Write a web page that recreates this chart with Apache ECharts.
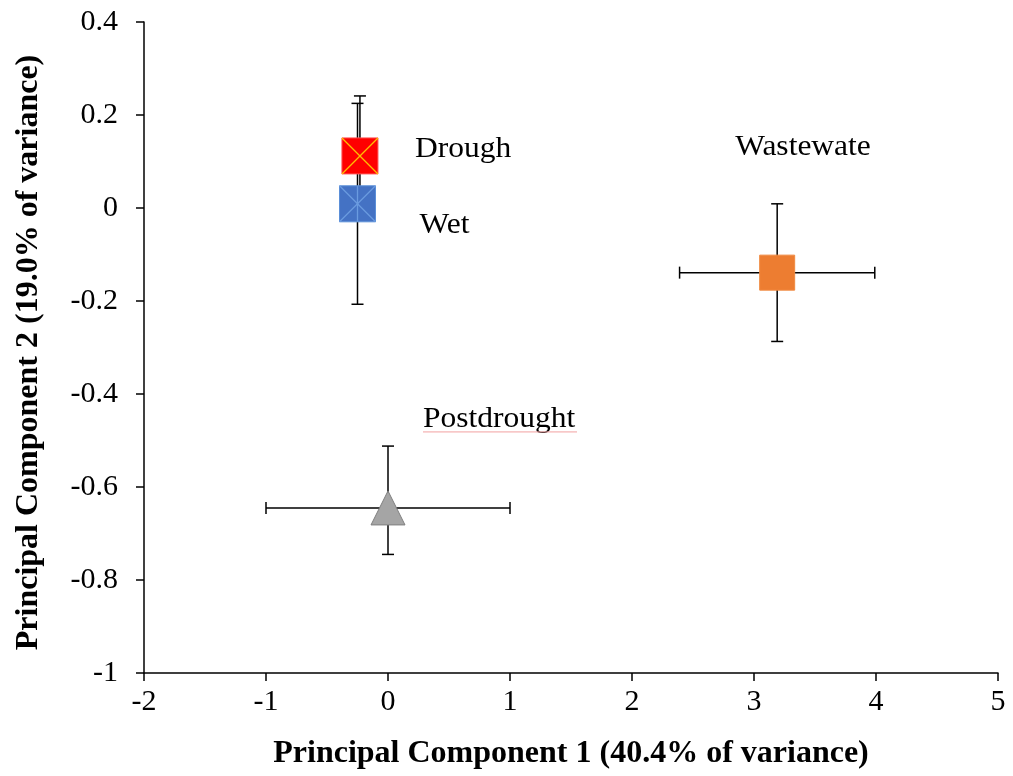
<!DOCTYPE html>
<html>
<head>
<meta charset="utf-8">
<script src="https://cdn.jsdelivr.net/npm/echarts@6/dist/echarts.min.js"></script>
<style>
  html, body { margin: 0; padding: 0; background: #fff; }
  #chart { width: 1013px; height: 776px; }
</style>
</head>
<body>
<div id="chart"></div>
<script>
// Group means on the first two principal components, with their spreads
const groups = ['Drough', 'Wet', 'Wastewate', 'Postdrought'];
const pc1 = [-0.23, -0.25, 3.19, 0.0];
const pc2 = [0.112, 0.009, -0.139, -0.645];
const pc1Err = [0, 0, 0.80, 1.0];
const pc2ErrPlus = [0.129, 0.216, 0.148, 0.133];
const pc2ErrMinus = [0.129, 0.216, 0.148, 0.100];

// Axis ranges
const xTicks = { min: -2, max: 5, interval: 1 };
const yTicks = { min: -1, max: 0.4, interval: 0.2 };

// Marker appearance for each group
const markerStyles = [
  { shape: 'square', size: 36, fill: '#FF0000', stroke: '#FF5050', cross: '#FFC000', star: false },
  { shape: 'square', size: 36, fill: '#4472C4', stroke: '#5B8FD8', cross: '#6A9BE0', star: true },
  { shape: 'square', size: 35, fill: '#ED7D31', stroke: '#F08A40', cross: null, star: false },
  { shape: 'triangle', size: 34, fill: '#A5A5A5', stroke: '#7F7F7F', cross: null, star: false }
];

// Label placement in pixels relative to each marker (left edge, vertical middle)
const labelOffsets = [[55, -7], [62, 21], [-42, -126], [35, -89]];

const FONT = '"Liberation Serif", "Times New Roman", serif';

const rows = groups.map((g, i) => [pc1[i], pc2[i], pc1Err[i], pc2ErrPlus[i], pc2ErrMinus[i], i]);

function errorBars(params, api) {
  const x = api.value(0), y = api.value(1);
  const ex = api.value(2), ep = api.value(3), em = api.value(4);
  const style = { stroke: '#000', lineWidth: 1.5 };
  const cap = 6;
  const children = [];
  const top = api.coord([x, y + ep]);
  const bot = api.coord([x, y - em]);
  children.push({ type: 'line', shape: { x1: top[0], y1: top[1], x2: bot[0], y2: bot[1] }, style });
  children.push({ type: 'line', shape: { x1: top[0] - cap, y1: top[1], x2: top[0] + cap, y2: top[1] }, style });
  children.push({ type: 'line', shape: { x1: bot[0] - cap, y1: bot[1], x2: bot[0] + cap, y2: bot[1] }, style });
  if (ex > 0) {
    const l = api.coord([x - ex, y]);
    const r = api.coord([x + ex, y]);
    children.push({ type: 'line', shape: { x1: l[0], y1: l[1], x2: r[0], y2: r[1] }, style });
    children.push({ type: 'line', shape: { x1: l[0], y1: l[1] - cap, x2: l[0], y2: l[1] + cap }, style });
    children.push({ type: 'line', shape: { x1: r[0], y1: r[1] - cap, x2: r[0], y2: r[1] + cap }, style });
  }
  return { type: 'group', children };
}

function markers(params, api) {
  const i = api.value(5);
  const m = markerStyles[i];
  const c = api.coord([api.value(0), api.value(1)]);
  const h = m.size / 2;
  const children = [];
  if (m.shape === 'square') {
    children.push({ type: 'rect', shape: { x: c[0] - h, y: c[1] - h, width: m.size, height: m.size },
      style: { fill: m.fill, stroke: m.stroke, lineWidth: 1 } });
    if (m.cross) {
      const ls = { stroke: m.cross, lineWidth: 1.3 };
      children.push({ type: 'line', shape: { x1: c[0] - h, y1: c[1] - h, x2: c[0] + h, y2: c[1] + h }, style: ls });
      children.push({ type: 'line', shape: { x1: c[0] - h, y1: c[1] + h, x2: c[0] + h, y2: c[1] - h }, style: ls });
      if (m.star) {
        children.push({ type: 'line', shape: { x1: c[0], y1: c[1] - h, x2: c[0], y2: c[1] + h }, style: ls });
      }
    }
  } else {
    children.push({ type: 'polygon',
      shape: { points: [[c[0], c[1] - h], [c[0] + h, c[1] + h], [c[0] - h, c[1] + h]] },
      style: { fill: m.fill, stroke: m.stroke, lineWidth: 1 } });
  }
  return { type: 'group', children };
}

function labels(params, api) {
  const i = api.value(5);
  const c = api.coord([api.value(0), api.value(1)]);
  const o = labelOffsets[i];
  const children = [{
    type: 'text',
    x: c[0] + o[0], y: c[1] + o[1], scaleX: 1.05,
    style: { x: 0, y: 0, text: groups[i], fill: '#000',
      font: '30px ' + FONT, align: 'left', verticalAlign: 'middle' }
  }];
  if (groups[i] === 'Postdrought') {
    // proofing underline beneath this label
    const y = c[1] + o[1] + 13;
    children.push({ type: 'line', shape: { x1: c[0] + o[0], y1: y, x2: c[0] + o[0] + 154, y2: y },
      style: { stroke: '#F2A0A0', lineWidth: 1 } });
  }
  return { type: 'group', children };
}

const chart = echarts.init(document.getElementById('chart'), null, { renderer: 'canvas' });

const axisCommon = {
  type: 'value',
  splitLine: { show: false },
  axisLine: { show: true, onZero: false, lineStyle: { color: '#000', width: 1.5 } },
  axisTick: { show: true, inside: false, length: 8, lineStyle: { color: '#000', width: 1.5 } },
  axisLabel: { color: '#000', fontFamily: FONT, fontSize: 30 },
  nameLocation: 'middle',
  nameTextStyle: { color: '#000', fontFamily: FONT, fontSize: 32, fontWeight: 'bold' }
};

chart.setOption({
  animation: false,
  backgroundColor: '#fff',
  grid: { left: 144, right: 15, top: 22, bottom: 103 },
  xAxis: Object.assign({}, axisCommon, {
    min: xTicks.min, max: xTicks.max, interval: xTicks.interval,
    name: 'Principal Component 1 (40.4% of variance)',
    nameGap: 65,
    axisLabel: Object.assign({}, axisCommon.axisLabel, { margin: 14 })
  }),
  yAxis: Object.assign({}, axisCommon, {
    min: yTicks.min, max: yTicks.max, interval: yTicks.interval,
    name: 'Principal Component 2 (19.0% of variance)',
    nameGap: 99,
    nameTextStyle: Object.assign({}, axisCommon.nameTextStyle, { padding: [0, 10, 0, 0] }),
    axisLabel: Object.assign({}, axisCommon.axisLabel, { margin: 26 })
  }),
  series: [
    { type: 'custom', data: rows, renderItem: errorBars, z: 2, clip: false },
    { type: 'custom', data: rows, renderItem: markers, z: 3, clip: false },
    { type: 'custom', data: rows, renderItem: labels, z: 4, clip: false }
  ]
});
</script>
</body>
</html>
